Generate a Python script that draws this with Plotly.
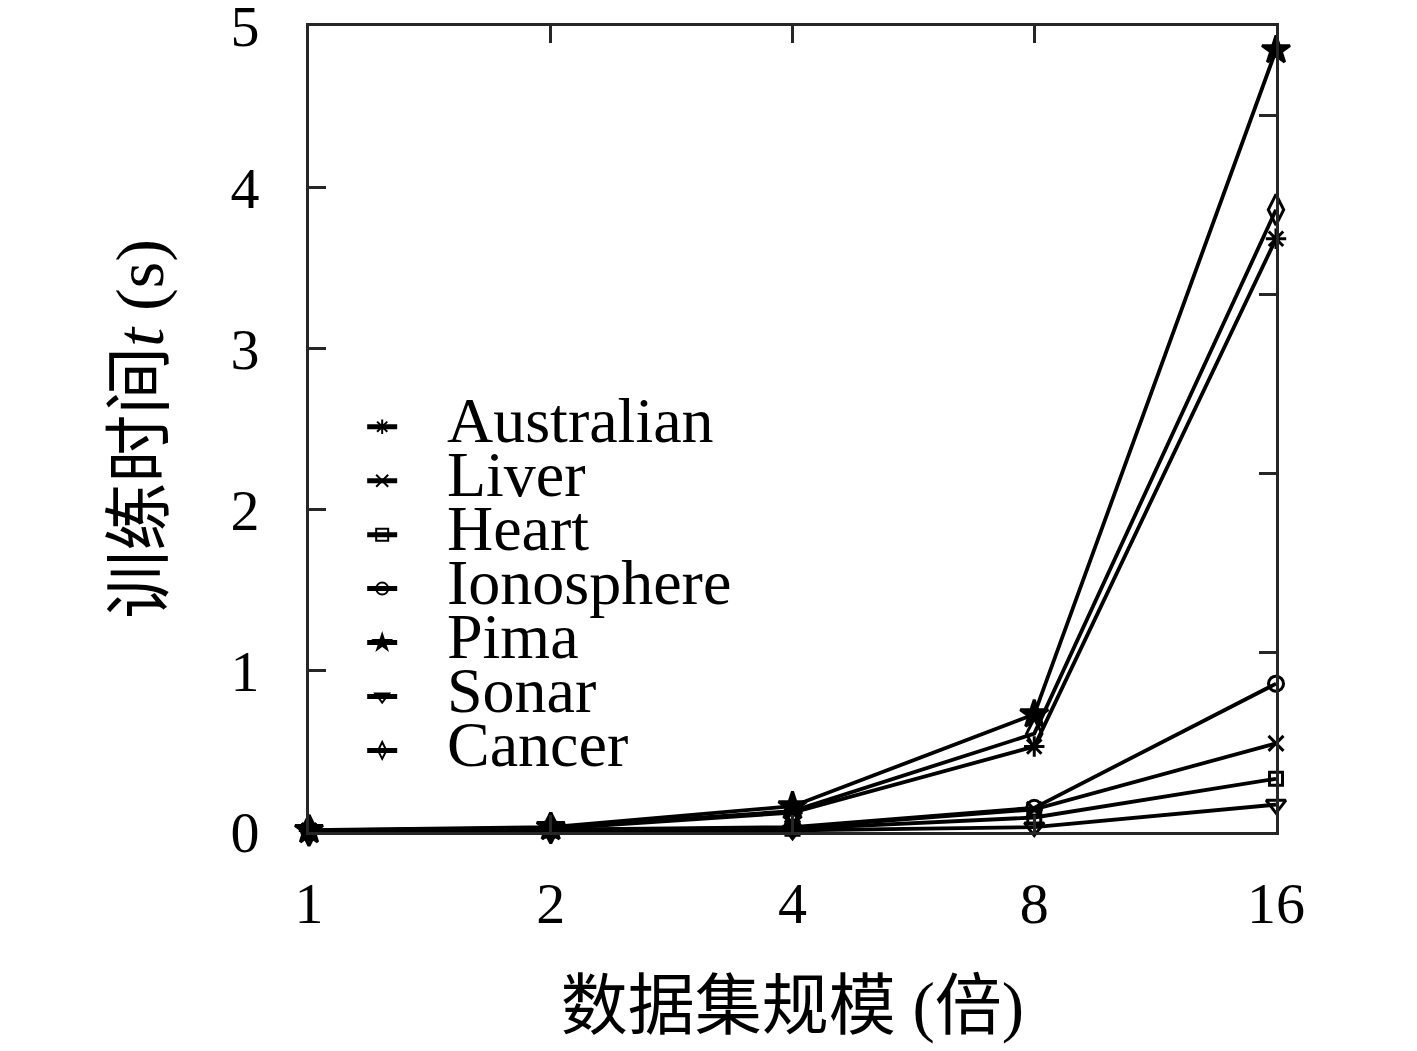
import plotly.graph_objects as go

# ---- data ----
scale = [1, 2, 4, 8, 16]
tick_labels = ["1", "2", "4", "8", "16"]
y_ticks = [0, 1, 2, 3, 4, 5]

australian = [0.010, 0.020, 0.12, 0.53, 3.68]
liver = [0.005, 0.012, 0.025, 0.14, 0.55]
heart = [0.005, 0.010, 0.020, 0.09, 0.33]
ionosphere = [0.008, 0.014, 0.030, 0.15, 0.92]
pima = [0.012, 0.030, 0.16, 0.73, 4.85]
sonar = [0.003, 0.006, 0.010, 0.03, 0.17]
cancer = [0.010, 0.025, 0.13, 0.61, 3.86]

series = [
    ("Australian", australian, "asterisk", 17),
    ("Liver", liver, "x-thin", 15),
    ("Heart", heart, "square-open", 13),
    ("Ionosphere", ionosphere, "circle-open", 15),
    ("Pima", pima, "star", 21),
    ("Sonar", sonar, "triangle-down-open", 17),
    ("Cancer", cancer, "diamond-tall-open", 22),
]

AX = "#262626"
FONT = "Liberation Serif, Noto Sans CJK SC"

fig = go.Figure()
for name, vals, sym, sz in series:
    fig.add_trace(go.Scatter(
        x=scale, y=vals, mode="lines+markers",
        name='<span style="font-size:64px">&nbsp;&nbsp;&#8201;' + name + "</span>",
        line=dict(color="black", width=3.8),
        marker=dict(symbol=sym, size=sz, color="black",
                    line=dict(color="black", width=3)),
        cliponaxis=False,
    ))

# empty trace to attach the right-hand axis
fig.add_trace(go.Scatter(x=[], y=[], yaxis="y2", showlegend=False,
                         hoverinfo="skip"))

fig.update_layout(
    width=1417, height=1051,
    margin=dict(l=301, r=149, t=18, b=227, autoexpand=False),
    paper_bgcolor="white", plot_bgcolor="white",
    font=dict(family=FONT, color="black", size=58),
    showlegend=True,
    legend=dict(x=0.055, y=0.5425, xanchor="left", yanchor="top",
                bgcolor="rgba(0,0,0,0)", borderwidth=0,
                font=dict(size=39.2, family=FONT, color="black"),
                itemsizing="constant"),
    xaxis=dict(
        type="log", range=[0, 1.20412],
        tickvals=scale, ticktext=tick_labels,
        ticks="inside", ticklen=17, tickwidth=3, tickcolor=AX,
        showline=True, linecolor=AX, linewidth=3, mirror="ticks",
        showgrid=False, zeroline=False,
        ticklabelstandoff=18, ticklabeloverflow="allow",
        tickfont=dict(size=58, family=FONT, color="black"),
        title=dict(text="数据集规模 (倍)", standoff=48,
                   font=dict(size=67, family=FONT, color="black")),
        automargin=False,
    ),
    yaxis=dict(
        range=[0, 5], tickvals=y_ticks,
        ticks="inside", ticklen=17, tickwidth=3, tickcolor=AX,
        showline=True, linecolor=AX, linewidth=3, mirror=False,
        showgrid=False, zeroline=False,
        ticklabelstandoff=35, ticklabeloverflow="allow",
        tickfont=dict(size=58, family=FONT, color="black"),
        title=dict(text="训练时间<i>t</i> (s)", standoff=45,
                   font=dict(size=68, family=FONT, color="black")),
        automargin=False,
    ),
    yaxis2=dict(
        overlaying="y", side="right", anchor="x",
        range=[0, 4.5], tickvals=[1, 2, 3, 4],
        showticklabels=False,
        ticks="inside", ticklen=17, tickwidth=3, tickcolor=AX,
        showline=True, linecolor=AX, linewidth=3,
        showgrid=False, zeroline=False,
    ),
)

fig.write_html("out.html")
